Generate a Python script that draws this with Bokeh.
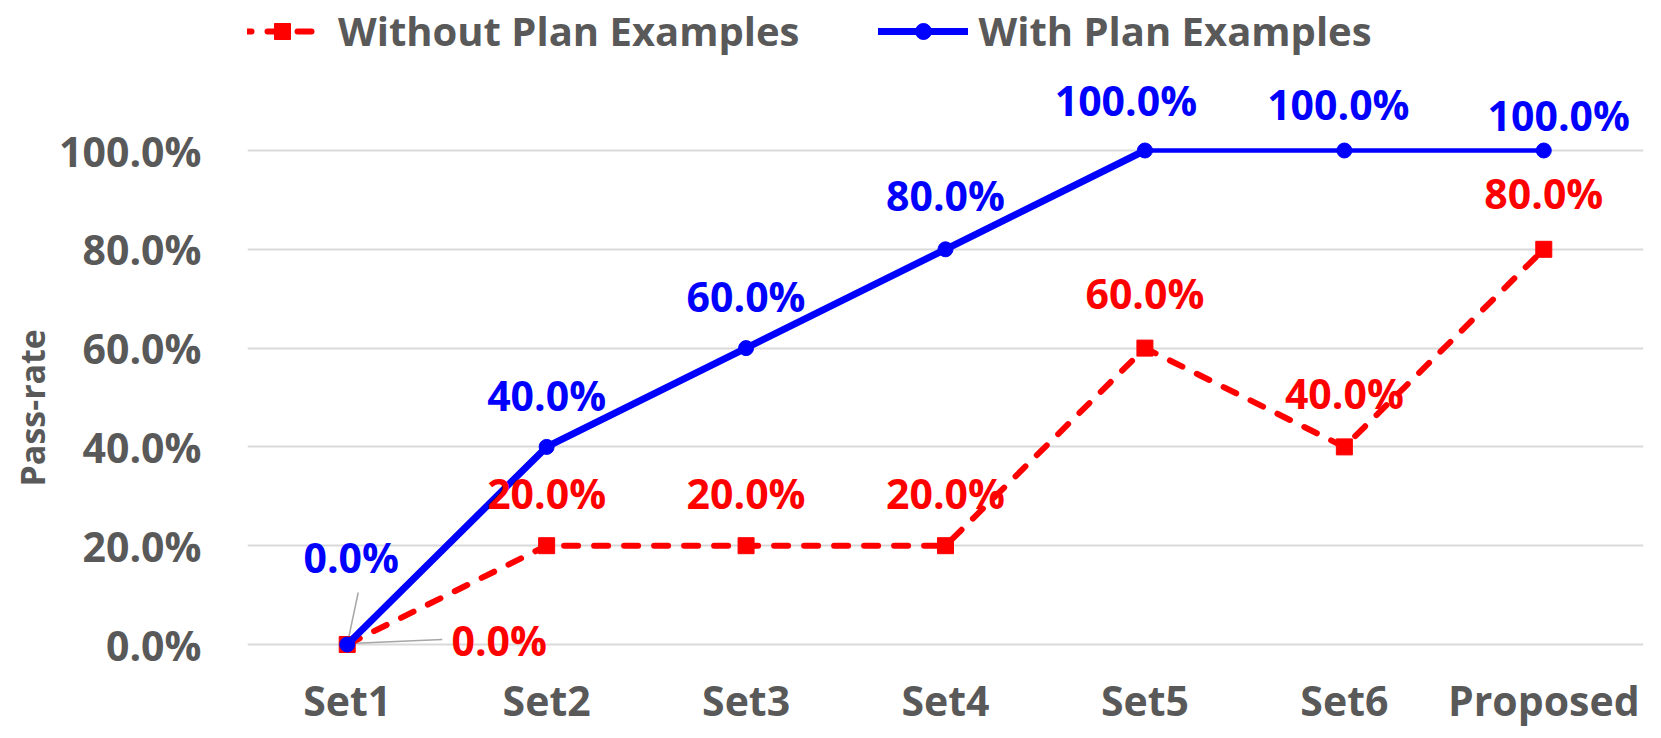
import numpy as np
from bokeh.plotting import figure
from bokeh.models import (ColumnDataSource, Range1d, FixedTicker, NumeralTickFormatter,
                          Legend, LegendItem, Title)
from bokeh.core.properties import value
from bokeh.embed import file_html
from bokeh.resources import INLINE

# ---------------- data ----------------
categories = ["Set1", "Set2", "Set3", "Set4", "Set5", "Set6", "Proposed"]
without_plan = [0.0, 0.2, 0.2, 0.2, 0.6, 0.4, 0.8]
with_plan = [0.0, 0.4, 0.6, 0.8, 1.0, 1.0, 1.0]
y_ticks = [0.0, 0.2, 0.4, 0.6, 0.8, 1.0]
series_names = ["Without Plan Examples", "With Plan Examples"]
y_title = "Pass-rate"

# ---------------- style ----------------
FONT = "Open Sans"
GRAY = "#595959"
RED = "#FF0000"
BLUE = "#0000FF"
LEADER = "#A6A6A6"
GRID = "#D9D9D9"

# label offsets in screen pixels (positive dy = down)
blue_dx = [4, 0, 0, 0, -19, -6, 15]
blue_dy = [-88, -52, -52, -54, -51, -47, -36]
red_dx = [152, 0, 0, 0, 0, 0, 0]
red_dy = [-5, -53, -53, -53, -55, -54, -56]

W, H = 1653, 736
PX_X = 199.4   # px per category
PX_Y = 494.0   # px per unit of y
FRAME_L = 247  # frame left (px)
FRAME_B = 658  # frame bottom (px)
ZERO_Y = 644   # px of value 0

xs = list(range(len(categories)))

p = figure(width=W, height=H,
           x_range=Range1d(-0.5, len(categories) - 0.5),
           y_range=Range1d(-(FRAME_B - ZERO_Y) / PX_Y, ZERO_Y / PX_Y),
           output_backend="svg", toolbar_location=None,
           min_border_left=FRAME_L, min_border_right=W - FRAME_L - round(PX_X * len(categories)),
           min_border_top=0, min_border_bottom=H - FRAME_B)
p.outline_line_color = None
p.background_fill_color = "white"
p.border_fill_color = "white"
p.xgrid.visible = False
p.ygrid.grid_line_color = GRID
p.ygrid.grid_line_width = 2

# axes
p.xaxis.ticker = FixedTicker(ticks=xs)
p.xaxis.major_label_overrides = {i: c for i, c in enumerate(categories)}
p.yaxis.ticker = FixedTicker(ticks=y_ticks)
p.yaxis.formatter = NumeralTickFormatter(format="0.0%")
for ax in (p.xaxis, p.yaxis):
    ax.axis_line_color = None
    ax.major_tick_line_color = None
    ax.minor_tick_line_color = None
    ax.major_tick_out = 0
    ax.major_tick_in = 0
    ax.major_label_text_font = FONT
    ax.major_label_text_font_style = "bold"
    ax.major_label_text_font_size = "41px"
    ax.major_label_text_color = GRAY
p.xaxis.major_label_standoff = 13
p.xaxis.major_label_text_line_height = 0.8
p.yaxis.major_label_standoff = 46

# y-axis title, positioned along the 0-100% span like the original
ytitle = Title(text=y_title, align="left", offset=172, standoff=0,
               vertical_align="top", text_line_height=1.14,
               text_font=FONT, text_font_style="bold", text_font_size="34px",
               text_color=GRAY)
try:
    ytitle.padding = dict(left=0, right=0, top=0, bottom=14)
except Exception:
    pass
p.add_layout(ytitle, "left")

# leader lines for the two Set1 labels (pixel offsets converted to data units)
p.segment(x0=[xs[0], xs[0] + 3 / PX_X], y0=[with_plan[0], without_plan[0] + 1 / PX_Y],
          x1=[xs[0] + 11 / PX_X, xs[0] + 95 / PX_X],
          y1=[with_plan[0] + 52 / PX_Y, without_plan[0] + 5 / PX_Y],
          line_color=LEADER, line_width=1.5)

# series
red_line = p.line(xs, without_plan, line_color=RED, line_width=6,
                  line_dash="14 16", line_cap="round", line_join="round")
red_sq = p.scatter(xs, without_plan, marker="square", size=16,
                   fill_color=RED, line_color=RED)
blue_line1 = p.line(xs[:5], with_plan[:5], line_color=BLUE, line_width=7,
                    line_join="round", line_cap="round")
blue_line2 = p.line(xs[4:], with_plan[4:], line_color=BLUE, line_width=4.5,
                    line_join="round", line_cap="round")
blue_dot = p.scatter(xs, with_plan, marker="circle", size=15,
                     fill_color=BLUE, line_color=BLUE)

# data labels
red_src = ColumnDataSource(dict(x=xs, y=without_plan,
                                text=[f"{v * 100:.1f}%" for v in without_plan],
                                dx=red_dx, dy=red_dy))
blue_src = ColumnDataSource(dict(x=xs, y=with_plan,
                                 text=[f"{v * 100:.1f}%" for v in with_plan],
                                 dx=blue_dx, dy=blue_dy))
for src, col in ((red_src, RED), (blue_src, BLUE)):
    p.text(x="x", y="y", text="text", x_offset="dx", y_offset="dy", source=src,
           text_color=col, text_font=value(FONT), text_font_style="bold",
           text_font_size="41px", text_align="center", text_baseline="middle")

legend = Legend(items=[LegendItem(label=series_names[0], renderers=[red_line, red_sq]),
                       LegendItem(label=series_names[1], renderers=[blue_line1, blue_dot])],
                location=(-10, FRAME_B - 58), orientation="horizontal")
legend.label_text_font = FONT
legend.label_text_font_style = "bold"
legend.label_text_font_size = "40px"
legend.label_text_color = GRAY
legend.glyph_width = 90
legend.glyph_height = 40
legend.label_standoff = 11
legend.spacing = 78
legend.padding = 0
legend.margin = 0
legend.border_line_alpha = 0
legend.background_fill_alpha = 0
p.add_layout(legend)

open("out.html", "w").write(file_html(p, INLINE))
